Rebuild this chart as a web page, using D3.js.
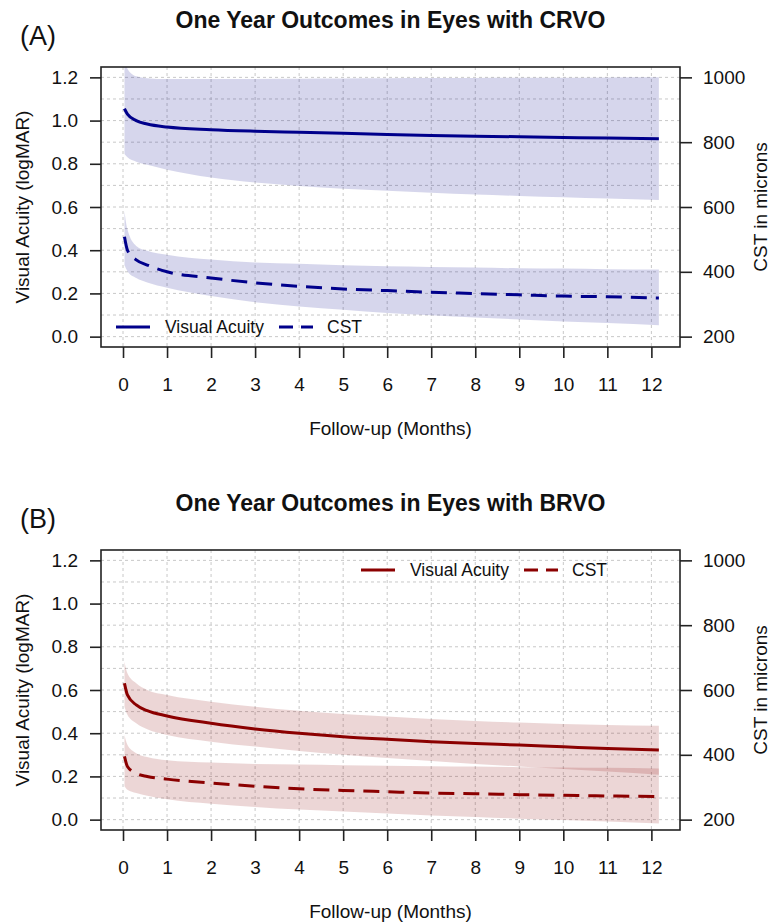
<!DOCTYPE html>
<html>
<head>
<meta charset="utf-8">
<script src="https://cdn.jsdelivr.net/npm/d3@7"></script>
<style>
  body { margin: 0; background: #fff; }
  text { font-family: "Liberation Sans", Arial, Helvetica, sans-serif; fill: #111; }
</style>
</head>
<body>
<svg id="chart" width="773" height="924"></svg>
<script>
// DATA (months since baseline; VA in logMAR, CST in microns)
var months = [0.033, 0.1, 0.3, 0.55, 1, 2, 3, 4, 5, 6, 7, 8, 9, 10, 11, 12.17];
var xTicks = [0, 1, 2, 3, 4, 5, 6, 7, 8, 9, 10, 11, 12];
var vaTicks = [0, 0.2, 0.4, 0.6, 0.8, 1.0, 1.2];
var cstTicks = [200, 400, 600, 800, 1000];

// CRVO
var crvoVA      = [1.055, 1.03, 1.0, 0.984, 0.97, 0.958, 0.951, 0.946, 0.941, 0.936, 0.931, 0.928, 0.925, 0.922, 0.919, 0.916];
var crvoVAHigh  = [1.32, 1.24, 1.205, 1.196, 1.192, 1.192, 1.193, 1.194, 1.195, 1.196, 1.197, 1.197, 1.198, 1.198, 1.199, 1.2];
var crvoVALow   = [0.845, 0.83, 0.81, 0.795, 0.772, 0.736, 0.713, 0.697, 0.684, 0.675, 0.666, 0.658, 0.651, 0.645, 0.639, 0.632];
var crvoCST     = [508, 467, 437, 421, 400, 381, 366, 355, 347, 342, 337, 333, 329, 325, 323, 319];
var crvoCSTHigh = [587, 531, 480, 465, 453, 438, 429, 425, 420, 417, 415, 413, 411, 410, 408, 407];
var crvoCSTLow  = [420, 402, 381, 367, 351, 325, 306, 293, 283, 273, 266, 259, 253, 247, 242, 235];

// BRVO
var brvoVA      = [0.631, 0.577, 0.531, 0.504, 0.48, 0.446, 0.42, 0.4, 0.384, 0.372, 0.361, 0.352, 0.345, 0.337, 0.329, 0.322];
var brvoVAHigh  = [0.731, 0.677, 0.631, 0.6, 0.577, 0.546, 0.523, 0.504, 0.489, 0.477, 0.466, 0.457, 0.449, 0.443, 0.438, 0.434];
var brvoVALow   = [0.523, 0.485, 0.446, 0.418, 0.392, 0.361, 0.338, 0.318, 0.3, 0.285, 0.271, 0.258, 0.246, 0.234, 0.223, 0.208];
var brvoCST     = [395, 364, 343, 333, 325, 313, 303, 295, 290, 286, 282, 280, 277, 275, 273, 271];
var brvoCSTHigh = [461, 431, 405, 393, 383, 376, 372, 370, 368, 366, 365, 364, 362, 361, 360, 358];
var brvoCSTLow  = [303, 292, 282, 274, 263, 249, 239, 231, 225, 219, 213, 208, 203, 199, 194, 188];

var svg = d3.select("#chart");
var left = 101, right = 680, boxH = 280;

function drawPanel(opt) {
  var top = opt.top, bottom = top + boxH;
  var g = svg.append("g");

  // SCALES
  var x = d3.scaleLinear().domain([-0.5, 12.65]).range([left, right]);
  var y = d3.scaleLinear().domain([-0.048, 1.248]).range([bottom, top]);
  var y2 = d3.scaleLinear().domain([168, 1032]).range([bottom, top]);

  // clip for bands
  g.append("clipPath").attr("id", "clip" + opt.id)
    .append("rect").attr("x", left).attr("y", top)
    .attr("width", right - left).attr("height", boxH);

  // GRID
  g.selectAll(".vgrid").data(xTicks).enter().append("line")
    .attr("x1", function (d) { return x(d); }).attr("x2", function (d) { return x(d); })
    .attr("y1", top).attr("y2", bottom)
    .attr("stroke", "#c8c8c8").attr("stroke-dasharray", "3,3");
  g.selectAll(".hgrid").data(d3.range(0, 13).map(function (i) { return i / 10; })).enter().append("line")
    .attr("x1", left).attr("x2", right)
    .attr("y1", function (d) { return y(d); }).attr("y2", function (d) { return y(d); })
    .attr("stroke", "#c8c8c8").attr("stroke-dasharray", "3,3");

  // BANDS
  var idx = d3.range(months.length);
  var vaArea = d3.area().curve(d3.curveMonotoneX)
    .x(function (i) { return x(months[i]); })
    .y0(function (i) { return y(opt.vaLow[i]); })
    .y1(function (i) { return y(opt.vaHigh[i]); });
  var cstArea = d3.area().curve(d3.curveMonotoneX)
    .x(function (i) { return x(months[i]); })
    .y0(function (i) { return y2(opt.cstLow[i]); })
    .y1(function (i) { return y2(opt.cstHigh[i]); });
  var bands = g.append("g").attr("clip-path", "url(#clip" + opt.id + ")");
  bands.append("path").attr("d", vaArea(idx)).attr("fill", opt.color).attr("fill-opacity", 0.16);
  bands.append("path").attr("d", cstArea(idx)).attr("fill", opt.color).attr("fill-opacity", 0.16);

  // LINES
  var vaLine = d3.line().curve(d3.curveMonotoneX)
    .x(function (i) { return x(months[i]); })
    .y(function (i) { return y(opt.va[i]); });
  var cstLine = d3.line().curve(d3.curveMonotoneX)
    .x(function (i) { return x(months[i]); })
    .y(function (i) { return y2(opt.cst[i]); });
  g.append("path").attr("d", vaLine(idx)).attr("fill", "none")
    .attr("stroke", opt.color).attr("stroke-width", 3);
  g.append("path").attr("d", cstLine(idx)).attr("fill", "none")
    .attr("stroke", opt.color).attr("stroke-width", 3).attr("stroke-dasharray", "16,9");

  // BOX
  g.append("rect").attr("x", left).attr("y", top)
    .attr("width", right - left).attr("height", boxH)
    .attr("fill", "none").attr("stroke", "#222").attr("stroke-width", 1.6);

  // AXES
  var xAxis = d3.axisBottom(x).tickValues(xTicks).tickSize(11).tickPadding(20).tickSizeOuter(0);
  var yAxis = d3.axisLeft(y).tickValues(vaTicks).tickSize(11).tickPadding(12)
    .tickFormat(d3.format(".1f")).tickSizeOuter(0);
  var y2Axis = d3.axisRight(y2).tickValues(cstTicks).tickSize(12).tickPadding(11)
    .tickFormat(d3.format("d")).tickSizeOuter(0);

  var ax = g.append("g").attr("transform", "translate(0," + bottom + ")").call(xAxis);
  var ay = g.append("g").attr("transform", "translate(" + left + ",0)").call(yAxis);
  var ay2 = g.append("g").attr("transform", "translate(" + right + ",0)").call(y2Axis);
  [ax, ay, ay2].forEach(function (a) {
    a.select(".domain").remove();
    a.selectAll(".tick line").attr("stroke", "#222").attr("stroke-width", 1.6);
    a.selectAll(".tick text").attr("font-size", "19px")
      .attr("font-family", "'Liberation Sans', Arial, sans-serif").attr("fill", "#111");
  });

  // TITLES AND LABELS
  g.append("text").attr("x", (left + right) / 2).attr("y", top - 39)
    .attr("text-anchor", "middle").attr("font-size", "23px").attr("font-weight", "bold")
    .text(opt.title);
  g.append("text").attr("x", 20).attr("y", top - 22)
    .attr("font-size", "27px").text(opt.tag);
  g.append("text").attr("x", (left + right) / 2).attr("y", bottom + 88)
    .attr("text-anchor", "middle").attr("font-size", "19px").text("Follow-up (Months)");
  g.append("text").attr("transform", "translate(29," + y(0.6) + ") rotate(-90)")
    .attr("text-anchor", "middle").attr("font-size", "19px").text("Visual Acuity (logMAR)");
  g.append("text").attr("transform", "translate(767," + y(0.6) + ") rotate(-90)")
    .attr("text-anchor", "middle").attr("font-size", "19px").text("CST in microns");

  // LEGEND
  var lg = g.append("g").attr("transform", "translate(" + opt.legendX + "," + opt.legendY + ")");
  lg.append("line").attr("x1", 0).attr("x2", 34).attr("y1", 0).attr("y2", 0)
    .attr("stroke", opt.color).attr("stroke-width", 3);
  lg.append("text").attr("x", 49).attr("y", 6).attr("font-size", "17.5px").text("Visual Acuity");
  lg.append("line").attr("x1", 163).attr("x2", 197).attr("y1", 0).attr("y2", 0)
    .attr("stroke", opt.color).attr("stroke-width", 3).attr("stroke-dasharray", "14,8");
  lg.append("text").attr("x", 211).attr("y", 6).attr("font-size", "17.5px").text("CST");
}

drawPanel({
  id: "A", top: 67, tag: "(A)", title: "One Year Outcomes in Eyes with CRVO",
  color: "#00008B", legendX: 116, legendY: 327,
  va: crvoVA, vaHigh: crvoVAHigh, vaLow: crvoVALow,
  cst: crvoCST, cstHigh: crvoCSTHigh, cstLow: crvoCSTLow
});
drawPanel({
  id: "B", top: 550, tag: "(B)", title: "One Year Outcomes in Eyes with BRVO",
  color: "#8B0000", legendX: 361, legendY: 570,
  va: brvoVA, vaHigh: brvoVAHigh, vaLow: brvoVALow,
  cst: brvoCST, cstHigh: brvoCSTHigh, cstLow: brvoCSTLow
});
</script>
</body>
</html>
